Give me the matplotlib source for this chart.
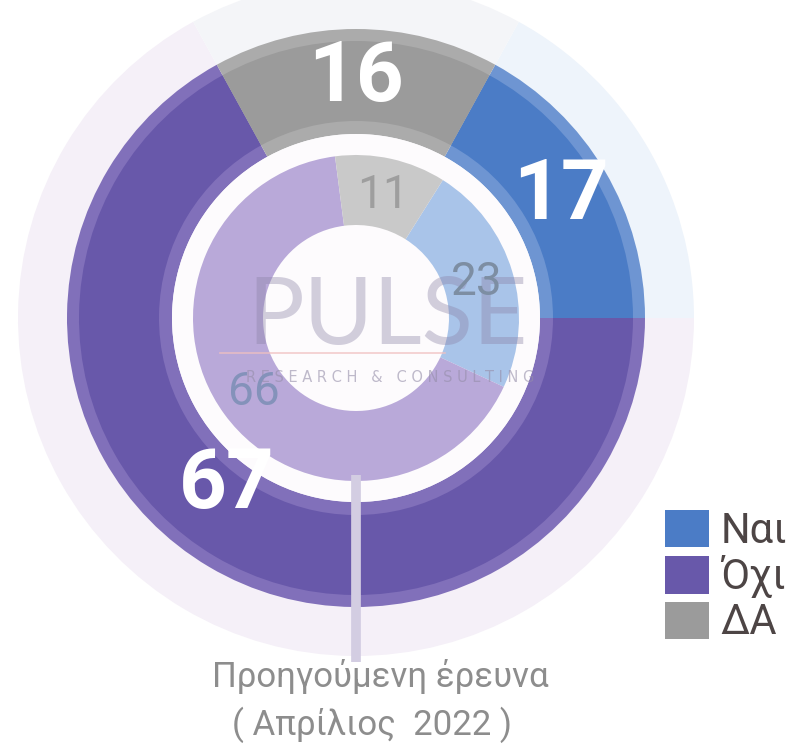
import numpy as np
import matplotlib
matplotlib.use('Agg')
import matplotlib.pyplot as plt

# data: current survey (outer ring) and previous survey, April 2022 (inner ring)
categories = ['Ναι', 'Όχι', 'ΔΑ']
current = [17, 67, 16]
previous = [23, 66, 11]

colors_dark = ['#4b7cc6', '#6858aa', '#9b9b9b']
colors_band = ['#6e95d2', '#8170ba', '#ababab']
colors_inner = ['#a9c4e9', '#b9a9d9', '#c9c9c9']
colors_halo = ['#eef4fb', '#f5f0f8', '#f4f5f8']
inner_text = ['#7d8ea3', '#8492ba', '#9e9e9e']

narrow = ['Roboto', 'DejaVu Sans']

fig = plt.figure(figsize=(8.05, 7.45), dpi=100)
ax = fig.add_axes([0, 0, 1, 1])

c = (356, 427)   # centre of the rings (pixel units, y up)
wp = dict(linewidth=0)

# faint halo behind everything
ax.pie(current, radius=338, center=c, colors=colors_halo, startangle=61.2,
       counterclock=False, frame=True, wedgeprops=wp)
# outer ring: lighter band + darker body
ax.pie(current, radius=289, center=c, colors=colors_band, startangle=61.2,
       counterclock=False, frame=True, wedgeprops=dict(width=105, linewidth=0))
outer, _ = ax.pie(current, radius=277, center=c, colors=colors_dark, startangle=61.2,
                  counterclock=False, frame=True, wedgeprops=dict(width=80, linewidth=0))
# white gap and inner ring
ax.add_patch(plt.Circle(c, 184, color='#fdfbfd', lw=0))
inner, _ = ax.pie(previous, radius=163, center=c, colors=colors_inner, startangle=57.8,
                  counterclock=False, frame=True, wedgeprops=dict(width=70, linewidth=0))
ax.add_patch(plt.Circle(c, 93, color='#fbf8fb', lw=0, zorder=0.5))

# pointer line to the caption
ax.plot([c[0], c[0]], [c[1] - 157, 83], color='#d3cde2', lw=7, solid_capstyle='butt', zorder=3)

# watermark
ax.text(388, 427, 'PULSE', fontsize=68, family='Lato', fontweight='normal',
        color='#8a82a6', alpha=0.38, ha='center', va='center', zorder=4)
ax.plot([220, 445], [392, 392], color='#f0c0c0', lw=1.2, alpha=0.8, zorder=4)
ax.text(390, 367, 'R E S E A R C H   &   C O N S U L T I N G', fontsize=10.5,
        color='#958ea9', alpha=0.6, ha='center', va='center', zorder=4)

# outer labels
shift = [0, -7, 0]
rad = [238, 212, 240]
for w, v, s, r in zip(outer, current, shift, rad):
    a = np.deg2rad((w.theta1 + w.theta2) / 2 + s)
    ax.text(c[0] + r * np.cos(a), c[1] + r * np.sin(a), str(v), fontsize=60,
            family=narrow, fontweight='bold', color='white', ha='center', va='center', zorder=6)

# inner labels
for w, v, col in zip(inner, previous, inner_text):
    a = np.deg2rad((w.theta1 + w.theta2) / 2)
    ax.text(c[0] + 126 * np.cos(a), c[1] + 126 * np.sin(a), str(v), fontsize=33,
            family=narrow, color=col, ha='center', va='center', zorder=6)

# caption
ax.text(380, 68, 'Προηγούμενη έρευνα', fontsize=25, family=narrow, color='#8d8d8d',
        ha='center', va='center')
ax.text(372, 20, '( Απρίλιος  2022 )', fontsize=25, family=narrow, color='#8d8d8d',
        ha='center', va='center')

leg = ax.legend(outer, categories, loc='upper left', bbox_to_anchor=(665 / 805, 1 - 510 / 745),
                frameon=False, handlelength=1.05, handleheight=1.0,
                handletextpad=0.28, labelspacing=0.08, borderpad=0, borderaxespad=0,
                prop={'family': narrow, 'size': 30})
for t in leg.get_texts():
    t.set_color('#4d4545')

ax.set_xlim(0, 805)
ax.set_ylim(0, 745)
ax.axis('off')

fig.savefig('out.png', dpi=100, facecolor='white')
